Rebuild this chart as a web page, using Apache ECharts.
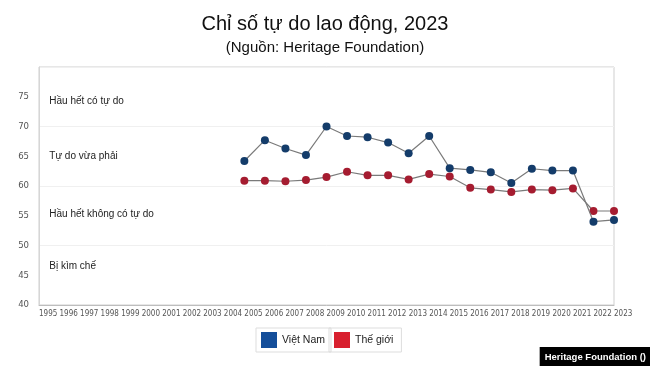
<!DOCTYPE html>
<html>
<head>
<meta charset="utf-8">
<script src="https://cdn.jsdelivr.net/npm/echarts@6/dist/echarts.min.js"></script>
<style>html,body{margin:0;padding:0;background:#fff}#c{width:650px;height:366px}</style>
</head>
<body>
<div id="c"></div>
<script>
var years = [2005,2006,2007,2008,2009,2010,2011,2012,2013,2014,2015,2016,2017,2018,2019,2020,2021,2022,2023];
var vietnam = [64.2,67.7,66.3,65.2,70.0,68.4,68.2,67.3,65.5,68.4,63.0,62.7,62.3,60.5,62.9,62.6,62.6,54.0,54.3];
var world = [60.9,60.9,60.8,61.0,61.5,62.4,61.8,61.8,61.1,62.0,61.6,59.7,59.4,59.0,59.4,59.3,59.6,55.8,55.8];
var bandLabels = ['Hầu hết có tự do','Tự do vừa phải','Hầu hết không có tự do','Bị kìm chế'];
var bandLabelValues = [74.2, 65, 55.3, 46.5];
var seriesNames = ['Việt Nam','Thế giới'];

var axisFont = '"Liberation Sans Narrow","DejaVu Sans Condensed","Roboto Condensed","Liberation Sans",sans-serif';
var chart = echarts.init(document.getElementById('c'), null, {renderer:'canvas'});

function pairs(v){ return years.map(function(y,i){ return [y, v[i]]; }); }

chart.setOption({
  animation:false,
  backgroundColor:'#fff',
  title:[
    {text:'Chỉ số tự do lao động, 2023', left:'center', top:9,
     textStyle:{fontFamily:'Liberation Sans, Arial, sans-serif', fontSize:20, fontWeight:'normal', color:'#111'}},
    {text:'(Nguồn: Heritage Foundation)', left:'center', top:35,
     textStyle:{fontFamily:'Liberation Sans, Arial, sans-serif', fontSize:15, fontWeight:'normal', color:'#111'}},
    {text:'Heritage Foundation ()', right:0, bottom:0, padding:[5,4,4,5], backgroundColor:'#000',
     textStyle:{fontFamily:'Liberation Sans, Arial, sans-serif', fontSize:9.5, fontWeight:'bold', color:'#fff'}}
  ],
  legend:[
    {data:[{name:seriesNames[0], itemStyle:{color:'#144e9a'}}], left:256, top:328, icon:'rect', itemWidth:16, itemHeight:16, itemGap:6,
     borderColor:'#ddd', borderWidth:1, padding:[4,6,4,5], selectedMode:false,
     textStyle:{fontFamily:'Liberation Sans, Arial, sans-serif', fontSize:10.5, color:'#222'}},
    {data:[{name:seriesNames[1], itemStyle:{color:'#d81f2e'}}], left:329, top:328, icon:'rect', itemWidth:16, itemHeight:16, itemGap:6,
     borderColor:'#ddd', borderWidth:1, padding:[4,8,4,5], selectedMode:false,
     textStyle:{fontFamily:'Liberation Sans, Arial, sans-serif', fontSize:10.5, color:'#222'}}
  ],
  grid:{left:39, right:36, top:67, bottom:61, show:true, borderColor:'#cfcfcf', borderWidth:1, backgroundColor:'transparent'},
  xAxis:{type:'value', min:1995, max:2023, interval:1,
    axisLine:{show:true, lineStyle:{color:'#bdbdbd'}}, axisTick:{show:false}, splitLine:{show:false},
    axisLabel:{align:'left', margin:5, fontFamily:axisFont, fontSize:8, color:'#555', showMinLabel:true, showMaxLabel:true,
      formatter:function(v){return String(v);}}},
  yAxis:[
    {type:'value', min:40, max:80, interval:5,
     axisLine:{show:true, lineStyle:{color:'#d6d6d6'}}, axisTick:{show:false}, splitLine:{show:false},
     axisLabel:{margin:10, fontFamily:axisFont, fontSize:9.5, color:'#555', showMaxLabel:false}},
    {type:'value', min:40, max:80, interval:10, position:'left',
     axisLine:{show:false}, axisTick:{show:false}, axisLabel:{show:false},
     splitLine:{show:true, lineStyle:{color:'#f0f0f0', width:1}}}
  ],
  series:[
    {name:seriesNames[0], type:'line', data:pairs(vietnam), symbol:'circle', symbolSize:8,
     itemStyle:{color:'#143c6a'}, lineStyle:{color:'#7a7a7a', width:1.2}, z:3,
     markPoint:{symbol:'circle', symbolSize:0, silent:true,
       label:{show:true, position:'right', distance:0, fontFamily:'Liberation Sans, Arial, sans-serif', fontSize:10, color:'#222',
         formatter:function(p){return p.name;}},
       data:bandLabels.map(function(t,i){return {name:t, coord:[1995.5, bandLabelValues[i]]};})}},
    {name:seriesNames[1], type:'line', data:pairs(world), symbol:'circle', symbolSize:8,
     itemStyle:{color:'#a51c30'}, lineStyle:{color:'#7a7a7a', width:1.2}, z:2}
  ]
});
</script>
</body>
</html>
